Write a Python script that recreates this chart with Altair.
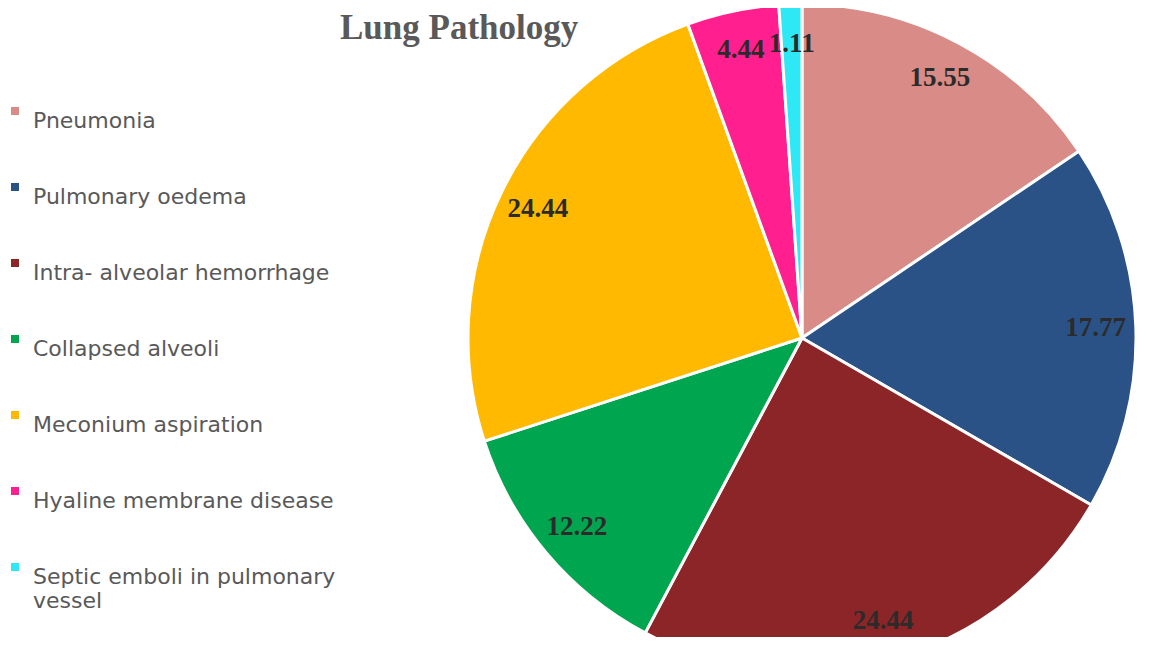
import altair as alt
import pandas as pd

title_text = ["Lung Pathology"]
categories = ["Pneumonia", "Pulmonary oedema", "Intra- alveolar hemorrhage",
              "Collapsed alveoli", "Meconium aspiration",
              "Hyaline membrane disease", "Septic emboli in pulmonary vessel"]
values = [15.55, 17.77, 24.44, 12.22, 24.44, 4.44, 1.11]
labels = ["15.55", "17.77", "24.44", "12.22", "24.44", "4.44", "1.11"]
colors = ["#D98B87", "#2A5286", "#8B2527", "#00A54F", "#FFB900", "#FF1F8E", "#2EE8F5"]

df = pd.DataFrame({"cat": categories, "val": values, "lab": labels,
                   "idx": list(range(len(categories)))})

CX, CY, R = 794, 330, 334

base = alt.Chart(df).encode(
    theta=alt.Theta("val:Q", stack=True),
    order=alt.Order("idx:Q"),
)

pie = base.mark_arc(outerRadius=R, stroke="white", strokeWidth=3).encode(
    x=alt.value(CX), y=alt.value(CY),
    color=alt.Color("cat:N",
                    scale=alt.Scale(domain=categories, range=colors),
                    sort=categories,
                    legend=alt.Legend(
                        title=None, orient="none", legendX=-4, legendY=92, padding=0,
                        symbolType="square", symbolSize=64, symbolStrokeWidth=0,
                        labelFontSize=22, labelColor="#595959", labelFont="DejaVu Sans",
                        labelLimit=400, rowPadding=44, symbolOffset=0,
                        labelExpr="datum.label == 'Septic emboli in pulmonary vessel' ? ['Septic emboli in pulmonary', 'vessel'] : datum.label",
                        labelBaseline="top", labelOffset=7,
                    )),
)

text = base.mark_text(radius=R * 0.88, font="Liberation Serif", fontWeight="bold",
                      fontSize=27, color="#2B2B2B").encode(
    x=alt.value(CX), y=alt.value(CY),
    text="lab:N",
)

title = alt.Chart(pd.DataFrame({"t": title_text})).mark_text(
    align="left", baseline="alphabetic", font="Liberation Serif", fontWeight="bold",
    fontSize=35, color="#595959",
).encode(x=alt.value(332), y=alt.value(31), text="t:N")

chart = (pie + text + title).properties(
    width=1143, height=629, padding=0, autosize=alt.AutoSizeParams(type="none"),
).configure_view(stroke=None)

chart.save("out.html", embed_options={"renderer": "svg", "actions": False})
